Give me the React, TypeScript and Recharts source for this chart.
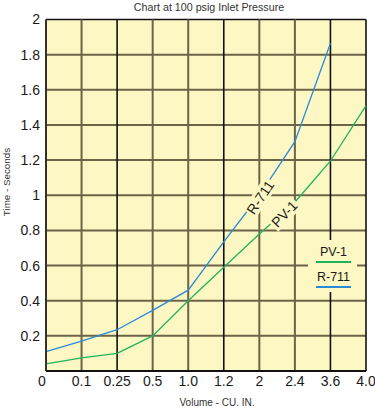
import React from 'react';
import { LineChart, Line, XAxis, YAxis, CartesianGrid, Legend, LabelList } from 'recharts';

const volumes = ['0', '0.1', '0.25', '0.5', '1.0', '1.2', '2', '2.4', '3.6', '4.0'];
const r711 = [0.11, 0.17, 0.235, 0.345, 0.46, 0.735, 1.0, 1.305, 1.865, null];
const pv1 = [0.04, 0.075, 0.1, 0.2, 0.4, 0.59, 0.78, 0.96, 1.195, 1.51];
const yTicks = [0.2, 0.4, 0.6, 0.8, 1, 1.2, 1.4, 1.6, 1.8, 2];
const legendOrder = ['PV-1', 'R-711'];
const darkVertical = [2, 5, 8, 9];

const data = volumes.map((v, i) => ({ v, r711: r711[i], pv1: pv1[i] }));

const BG = '#fdf7c4';
const GRID = '#6d6348';
const BLUE = '#2b8ad6';
const GREEN = '#1fb45c';
const FONT = '"Liberation Sans", Arial, Helvetica, sans-serif';

const lineLabel = (text: string, idx: number, dx: number, dy: number, angle: number, w: number) =>
  (props: any) => {
    if (props.index !== idx) return null;
    const cx = props.x + dx;
    const cy = props.y + dy;
    return (
      <g transform={`translate(${cx},${cy}) rotate(${angle})`}>
        <rect x={-w / 2} y={-8} width={w} height={16} fill={BG} />
        <text x={0} y={0} textAnchor="middle" dominantBaseline="central" fontSize={14} fontFamily={FONT} fill="#1a1a1a">
          {text}
        </text>
      </g>
    );
  };

const LegendContent = (props: any) => {
  const items = [...(props.payload || [])].sort(
    (a: any, b: any) => legendOrder.indexOf(a.value) - legendOrder.indexOf(b.value)
  );
  return (
    <div style={{ background: BG, width: 49, height: 52, fontFamily: FONT, position: 'relative' }}>
      {items.map((it: any, i: number) => (
        <div key={it.value} style={{ position: 'absolute', left: 8, top: 5 + i * 25, width: 35, textAlign: 'center', fontSize: 12.5, color: '#1a1a1a', lineHeight: '14px' }}>
          <div>{it.value}</div>
          <div style={{ height: 2, background: it.color, marginTop: 2 }} />
        </div>
      ))}
    </div>
  );
};

const XTick = (props: any) => {
  const { x, y, payload, index } = props;
  return (
    <text x={index === 0 ? x - 4 : x} y={y} dy="0.71em" textAnchor="middle" fontSize={14} fontFamily={FONT} fill="#1a1a1a">
      {payload.value}
    </text>
  );
};

export default function App() {
  return (
    <div style={{ position: 'absolute', left: 0, top: 0, width: 375, height: 411, background: '#fff' }}>
      <LineChart width={375} height={411} data={data} margin={{ top: 19.5, right: 9, bottom: 10, left: 0 }}>
        <CartesianGrid
          fill={BG}
          vertical={(p: any) => (
            <line key={`v${p.index}`} x1={p.x1} y1={p.y1} x2={p.x2} y2={p.y2}
              stroke={darkVertical.includes(p.index) ? '#111' : GRID}
              strokeWidth={darkVertical.includes(p.index) ? 1.6 : 2} />
          )}
          horizontal={(p: any) => (
            <line key={`h${p.index}`} x1={p.x1} y1={p.y1} x2={p.x2} y2={p.y2}
              stroke={p.y1 < 25 ? '#111' : GRID} strokeWidth={p.y1 < 25 ? 1.6 : 2} />
          )}
        />
        <XAxis dataKey="v" type="category" padding={{ left: 0, right: 0 }} height={30}
          axisLine={{ stroke: '#111', strokeWidth: 2 }} tickLine={false} tickSize={0} tickMargin={5}
          interval={0} tick={<XTick />} />
        <YAxis type="number" domain={[0, 2]} ticks={yTicks} width={46}
          axisLine={{ stroke: '#222', strokeWidth: 1.5 }} tickLine={false} tickSize={0} tickMargin={6}
          tick={{ fontSize: 14, fontFamily: FONT, fill: '#1a1a1a' }} />
        <Line dataKey="pv1" name="PV-1" stroke={GREEN} strokeWidth={1.3} dot={false} isAnimationActive={false}>
          <LabelList dataKey="pv1" content={lineLabel('PV-1', 6, 25, -20, -46, 34)} />
        </Line>
        <Line dataKey="r711" name="R-711" stroke={BLUE} strokeWidth={1.3} dot={false} isAnimationActive={false}>
          <LabelList dataKey="r711" content={lineLabel('R-711', 6, 1, 2, -56, 40)} />
        </Line>
        <Legend layout="horizontal" align="center" verticalAlign="middle" content={<LegendContent />}
          wrapperStyle={{ position: 'absolute', left: 308, top: 240, width: 49, height: 52 }} />
        <text x={209} y={11} textAnchor="middle" fontSize={10.7} fontFamily={FONT} fill="#333">Chart at 100 psig Inlet Pressure</text>
        <text x={0} y={0} transform="translate(10,182) rotate(-90)" textAnchor="middle" fontSize={9.8} fontFamily={FONT} fill="#333">Time - Seconds</text>
        <text x={217} y={406} textAnchor="middle" fontSize={10} fontFamily={FONT} fill="#333">Volume - CU. IN.</text>
      </LineChart>
    </div>
  );
}
